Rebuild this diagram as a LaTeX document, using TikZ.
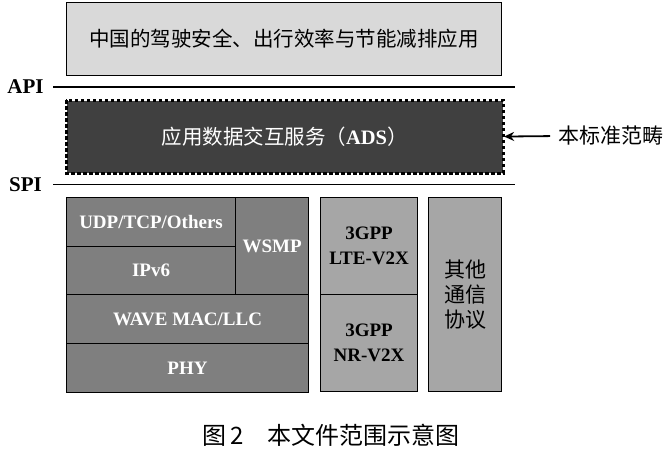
\documentclass[tikz,border=0pt]{standalone}
\usepackage{fontspec}
\setmainfont{Liberation Serif}
\newfontfamily\cjk{Noto Sans CJK SC}
\usetikzlibrary{arrows.meta}
\definecolor{topgray}{HTML}{D9D9D9}
\definecolor{adsgray}{HTML}{404040}
\definecolor{midgray}{HTML}{7F7F7F}
\definecolor{litegray}{HTML}{A6A6A6}
\tikzset{
  cell/.style={draw=black, line width=1.1pt, inner sep=0pt, anchor=north west, align=center},
  darkcell/.style={cell, fill=midgray, text=white, font=\bfseries\fontsize{19}{24}\selectfont},
  litecell/.style={cell, fill=litegray, text=black, font=\bfseries\fontsize{19}{25}\selectfont},
  sepline/.style={line width=1.4pt},
  layerlbl/.style={font=\bfseries\fontsize{21}{24}\selectfont, inner sep=0pt},
  cjkbig/.style={font=\cjk\fontsize{20.5}{24}\selectfont},
  adsborder/.style={draw=black, line width=3pt, dash pattern=on 3.6pt off 2.4pt},
}
\begin{document}
\begin{tikzpicture}[x=1pt,y=-1pt]
\useasboundingbox (0,0) rectangle (668,450);
% application
\node[cell, fill=topgray, minimum width=435pt, minimum height=73pt, cjkbig] (app) at (66,2) {中国的驾驶安全、出行效率与节能减排应用};
% API
\node[layerlbl] (api) at (25.5,87) {API};
\coordinate (apiA) at (53,87);
\coordinate (apiB) at (515,87);
\draw[sepline] (apiA) -- (apiB);
% ADS
\node[cell, fill=adsgray, draw=none, minimum width=436pt, minimum height=72pt, text=white, cjkbig] (ads) at (66,100) {应用数据交互服务（{\rmfamily\bfseries ADS}）};
\node[anchor=west, inner sep=0pt, font=\cjk\fontsize{21}{24}\selectfont] (scopelbl) at (558,136) {本标准范畴};
\draw[line width=1.8pt, -{Stealth[length=10pt,width=9pt]}, shorten <=8pt, shorten >=1pt] (scopelbl.west) -- (ads.east);
\draw[adsborder] (ads.north west) rectangle (ads.south east);
% SPI
\node[layerlbl] (spi) at (25.5,185) {SPI};
\coordinate (spiA) at (53,184.5);
\coordinate (spiB) at (515,184.5);
\draw[sepline] (spiA) -- (spiB);
% WAVE stack
\node[darkcell, minimum width=169pt, minimum height=48.5pt] (udp) at (66,197) {UDP/TCP/Others};
\node[darkcell, minimum width=169pt, minimum height=48.5pt] (ipv6) at (66,245.5) {IPv6};
\node[darkcell, minimum width=73pt, minimum height=97pt] (wsmp) at (235,197) {WSMP};
\node[darkcell, minimum width=242pt, minimum height=49pt] (wave) at (66,294) {WAVE MAC/LLC};
\node[darkcell, minimum width=242pt, minimum height=48.5pt] (phy) at (66,343) {PHY};
% 3GPP
\node[litecell, minimum width=97pt, minimum height=97pt] (lte) at (320,197) {3GPP\\LTE-V2X};
\node[litecell, minimum width=97pt, minimum height=97pt] (nr) at (320,294) {3GPP\\NR-V2X};
% others
\node[litecell, minimum width=73pt, minimum height=194pt, font=\cjk\fontsize{21}{25}\selectfont] (other) at (428,197) {其他\\通信\\协议};
% caption
\node[font=\cjk\fontsize{24}{28}\selectfont, inner sep=0pt] (cap) at (331,435) {图\,2\quad 本文件范围示意图};
\end{tikzpicture}
\end{document}
